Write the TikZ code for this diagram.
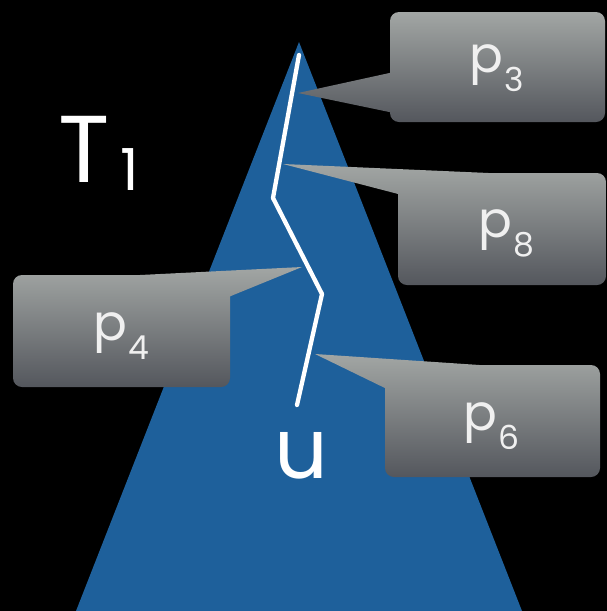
\documentclass[tikz,border=0pt]{standalone}
\usepackage{fontspec}
\setmainfont{Poppins}
\definecolor{treeblue}{RGB}{30,96,155}
\definecolor{calltop}{RGB}{162,166,164}
\definecolor{callbot}{RGB}{84,87,93}
\definecolor{calltext}{RGB}{240,240,240}
\tikzset{
  callout/.style={top color=calltop, bottom color=callbot, shading angle=0},
  ptext/.style={text=calltext, inner sep=0pt, anchor=base west},
  path/.style={draw=white, line width=4.3pt, line join=round, line cap=round},
  big/.style={text=white, inner sep=0pt, anchor=base west}
}
\newcommand{\plabel}[1]{\fontsize{50}{50}\selectfont p\kern1pt\raisebox{-19pt}{\fontsize{33}{33}\selectfont #1}}
\begin{document}
\begin{tikzpicture}[x=1pt,y=-1pt]
\useasboundingbox (0,0) rectangle (607,611);
\fill[black] (0,0) rectangle (607,611);
% tree
\coordinate (apex) at (299,42);
\coordinate (bl) at (76,611);
\coordinate (br) at (522,611);
\fill[treeblue] (apex) -- (bl) -- (br) -- cycle;
% path
\coordinate (w0) at (299,55);
\coordinate (w1) at (273,198);
\coordinate (w2) at (322,294);
\coordinate (w3) at (297,405);
\draw[path] (w0) -- (w1) -- (w2) -- (w3);
% callouts
\coordinate (t3) at (298,93);
\coordinate (t8) at (283,164);
\coordinate (t4) at (302,267);
\coordinate (t6) at (315,354);
\shade[callout] [rounded corners=9pt] (390,12) rectangle (605,122)
  [sharp corners] (t3) -- (394,113) -- (394,72) -- cycle;
\shade[callout] [rounded corners=9pt] (398,173) rectangle (606,285)
  [sharp corners] (t8) -- (402,195) -- (500,173.5) -- cycle;
\shade[callout] [rounded corners=9pt] (13,275) rectangle (230,387)
  [sharp corners] (t4) -- (130,275.5) -- (226,298) -- cycle;
\shade[callout] [rounded corners=9pt] (385,365) rectangle (600,477)
  [sharp corners] (t6) -- (389,390) -- (487,365.5) -- cycle;
\node[ptext] (p3) at (469,72) {\plabel{3}};
\node[ptext] (p8) at (478,237) {\plabel{8}};
\node[ptext] (p4) at (93,340) {\plabel{4}};
\node[ptext] (p6) at (463,430) {\plabel{6}};
% labels
\node[big] (T) at (58,182) {\fontsize{95}{95}\selectfont T};
\node[big] (one) at (120,190) {\fontsize{58}{58}\selectfont 1};
\node[big] (u) at (274,478) {\fontsize{84}{84}\selectfont u};
\end{tikzpicture}
\end{document}
